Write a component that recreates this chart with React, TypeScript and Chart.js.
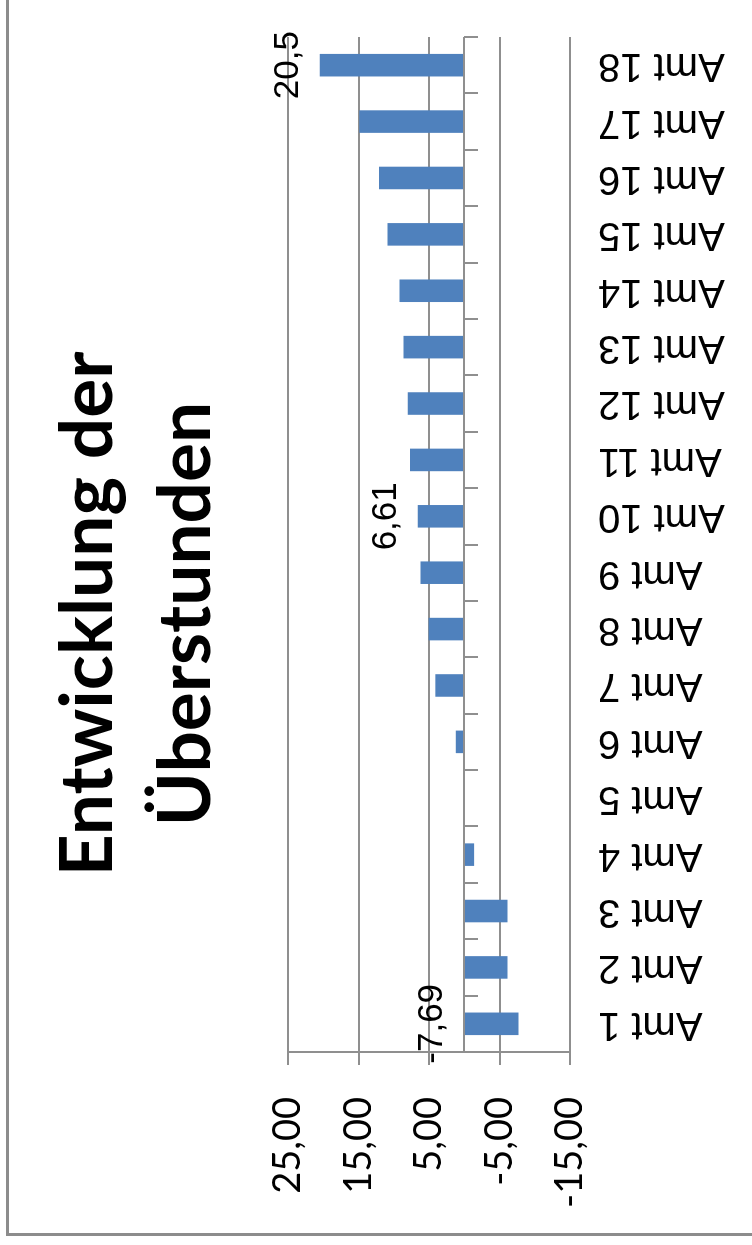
import { useEffect, useRef } from 'react';
import { Chart, registerables } from 'chart.js';

Chart.register(...registerables);

// Overtime development per office (hours)
const categories = [
  'Amt 1', 'Amt 2', 'Amt 3', 'Amt 4', 'Amt 5', 'Amt 6', 'Amt 7', 'Amt 8', 'Amt 9',
  'Amt 10', 'Amt 11', 'Amt 12', 'Amt 13', 'Amt 14', 'Amt 15', 'Amt 16', 'Amt 17', 'Amt 18',
];
const overtime = [
  -7.69, -6.15, -6.15, -1.4, 0, 1.2, 4.1, 5.05, 6.2,
  6.61, 7.7, 8.0, 8.6, 9.2, 10.9, 12.1, 14.9, 20.5,
];
// Bars that carry a value label
const labelledIndices = [0, 9, 17];
const valueTicks = [-15, -5, 5, 15, 25];
const titleLines = ['Entwicklung der', 'Überstunden'];

const GRID = '#8f8f8f';
const BAR = '#4f81bd';
const LABEL_FONT = '"Liberation Sans", Arial, sans-serif';
const TITLE_FONT = 'Lato, "Open Sans", sans-serif';

// Canvas size (the chart is drawn upright and the frame is turned a quarter turn)
const CANVAS_W = 1238;
const CANVAS_H = 764;

const deNumber = (v: number) => String(v).replace('.', ',');

// Category axis line drawn at the value 0, with tick marks between categories
const zeroAxisPlugin = {
  id: 'zeroAxis',
  afterDatasetsDraw(chart: any) {
    const { ctx, chartArea, scales } = chart;
    const x = scales.x;
    const y = scales.y;
    const y0 = Math.round(y.getPixelForValue(0));
    const first = x.getPixelForValue(0);
    const step = x.getPixelForValue(1) - first;
    ctx.save();
    ctx.strokeStyle = GRID;
    ctx.lineWidth = 2;
    ctx.beginPath();
    ctx.moveTo(chartArea.left, y0);
    ctx.lineTo(chartArea.right, y0);
    for (let i = 0; i <= categories.length; i++) {
      const px = Math.round(first - step / 2 + i * step);
      ctx.moveTo(px, y0);
      ctx.lineTo(px, y0 + 14);
    }
    ctx.stroke();
    ctx.restore();
  },
};

// Value labels above the bar end (positive) or above the base (negative)
const valueLabelPlugin = {
  id: 'valueLabels',
  afterDatasetsDraw(chart: any) {
    const { ctx, scales } = chart;
    const x = scales.x;
    const y = scales.y;
    ctx.save();
    ctx.font = `35px ${LABEL_FONT}`;
    ctx.fillStyle = '#000';
    ctx.textAlign = 'center';
    ctx.textBaseline = 'alphabetic';
    labelledIndices.forEach((i) => {
      const v = overtime[i];
      const anchor = y.getPixelForValue(v >= 0 ? v : 0);
      ctx.fillText(deNumber(v), x.getPixelForValue(i), anchor - 22);
    });
    ctx.restore();
  },
};

function OvertimeChart() {
  const canvasRef = useRef<HTMLCanvasElement | null>(null);

  useEffect(() => {
    if (!canvasRef.current) return;
    const chart = new Chart(canvasRef.current, {
      type: 'bar',
      data: {
        labels: categories,
        datasets: [
          {
            data: overtime,
            backgroundColor: BAR,
            borderWidth: 0,
            categoryPercentage: 1,
            barPercentage: 0.4,
          },
        ],
      },
      options: {
        responsive: false,
        animation: false,
        devicePixelRatio: 1,
        layout: { padding: 0 },
        plugins: {
          legend: { display: false },
          tooltip: { enabled: false },
          title: {
            display: true,
            text: titleLines,
            color: '#000',
            font: { family: TITLE_FONT, size: 73, weight: 'bold', lineHeight: 98 / 73 },
            padding: { top: 30, bottom: 53 },
          },
        },
        scales: {
          x: {
            type: 'category',
            position: 'bottom',
            grid: { display: false, drawTicks: false },
            border: { display: false },
            ticks: {
              autoSkip: false,
              minRotation: 90,
              maxRotation: 90,
              padding: 28,
              color: '#000',
              font: { family: LABEL_FONT, size: 40 },
            },
            afterFit: (scale: any) => {
              scale.height = 203;
              scale.paddingLeft = 0;
              scale.paddingRight = 42;
            },
          },
          y: {
            type: 'linear',
            position: 'left',
            min: -15,
            max: 25,
            afterBuildTicks: (scale: any) => {
              scale.ticks = valueTicks.map((value) => ({ value }));
            },
            grid: { color: GRID, lineWidth: 2, tickLength: 13, drawTicks: true },
            border: { display: true, color: GRID, width: 2 },
            ticks: {
              padding: 32,
              color: '#000',
              font: { family: TITLE_FONT, size: 38 },
              callback: (v: any) => Number(v).toFixed(2).replace('.', ','),
            },
            afterFit: (scale: any) => {
              scale.width = 181;
              scale.paddingTop = 0;
              scale.paddingBottom = 0;
            },
          },
        },
      },
      plugins: [zeroAxisPlugin, valueLabelPlugin],
    });

    return () => {
      chart.destroy();
    };
  }, []);

  return <canvas ref={canvasRef} width={CANVAS_W} height={CANVAS_H} style={{ display: 'block' }} />;
}

export default function App() {
  return (
    <div
      style={{
        position: 'absolute',
        left: 0,
        top: 0,
        width: 752,
        height: 1245,
        overflow: 'hidden',
        background: '#fff',
      }}
    >
      <div
        style={{
          position: 'absolute',
          left: 0,
          top: 0,
          width: CANVAS_W + 6,
          height: CANVAS_H + 6,
          boxSizing: 'border-box',
          border: '3px solid #8c8c8c',
          background: '#fff',
          transformOrigin: '0 0',
          transform: 'translate(6px, 1236px) rotate(-90deg)',
        }}
      >
        <OvertimeChart />
      </div>
    </div>
  );
}
